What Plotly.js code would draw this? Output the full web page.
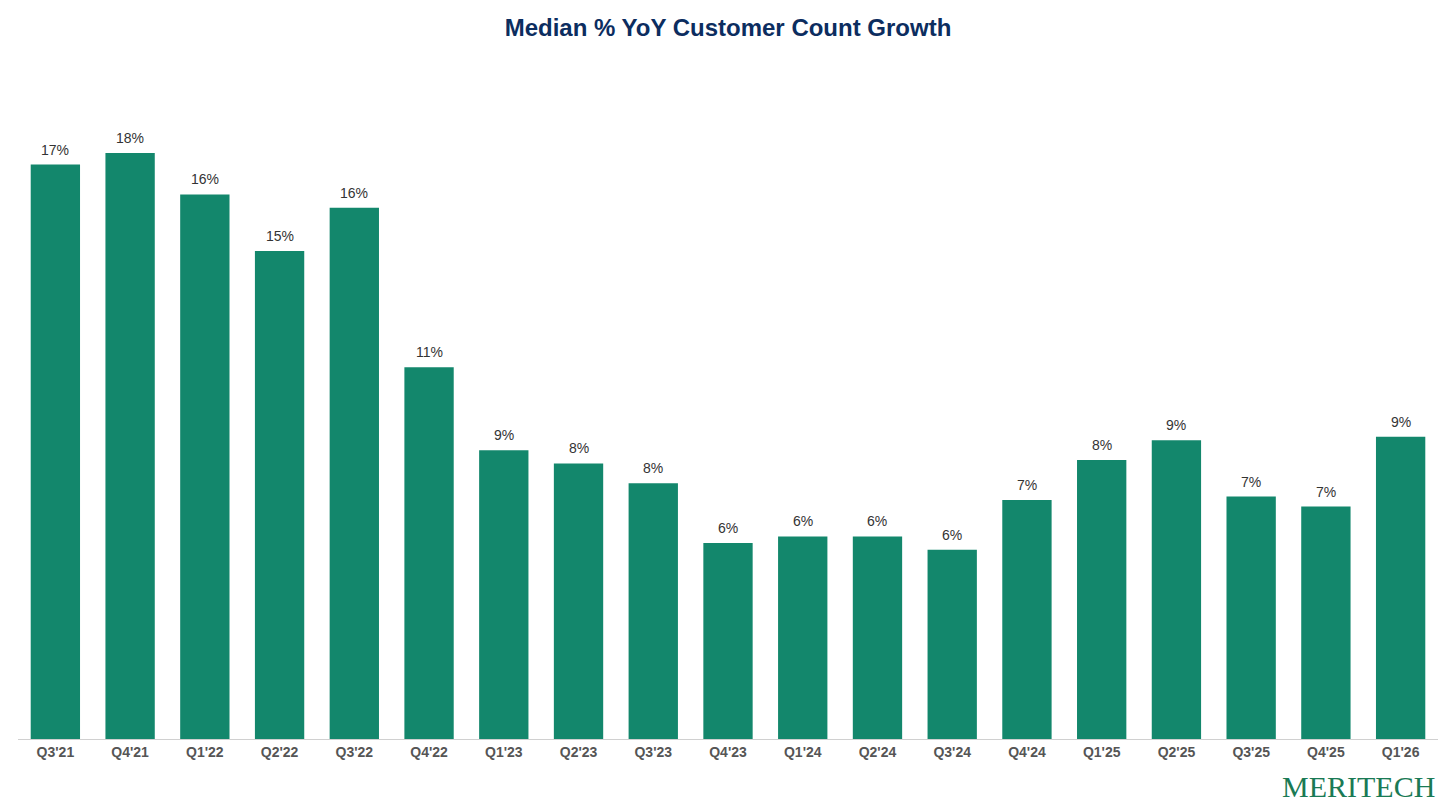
<!DOCTYPE html>
<html>
<head>
<meta charset="utf-8">
<script src="https://cdn.plot.ly/plotly-3.0.1.min.js"></script>
<style>body{margin:0;background:#fff}#plot{width:1456px;height:805px}</style>
</head>
<body>
<div id="plot"></div>
<script>
// quarters and median yoy customer count growth (%)
const quarters = ["Q3'21","Q4'21","Q1'22","Q2'22","Q3'22","Q4'22","Q1'23","Q2'23","Q3'23","Q4'23",
  "Q1'24","Q2'24","Q3'24","Q4'24","Q1'25","Q2'25","Q3'25","Q4'25","Q1'26"];
const growth = [17.3, 17.65, 16.4, 14.7, 16.0, 11.2, 8.7, 8.3, 7.7, 5.9,
  6.1, 6.1, 5.7, 7.2, 8.4, 9.0, 7.3, 7.0, 9.1];

const trace = {
  type: 'bar',
  x: quarters,
  y: growth,
  marker: { color: '#13876c' },
  hoverinfo: 'skip',
};

// value labels, a bit above each bar
const labels = quarters.map((q, i) => ({
  x: q, y: growth[i], text: Math.round(growth[i]) + '%', showarrow: false,
  yanchor: 'bottom', yshift: 5,
  font: { family: 'Arial, Liberation Sans', size: 14, color: '#333' },
}));

const layout = {
  width: 1456, height: 805,
  margin: { l: 18, r: 18, t: 60, b: 66 },
  bargap: 0.34,
  title: { text: '<b>Median % YoY Customer Count Growth</b>', x: 0.5, y: 0.966, yanchor: 'middle',
    font: { family: 'Arial, Liberation Sans', size: 24, color: '#0c2d5f' } },
  xaxis: { showline: true, linecolor: '#d0d0d0', linewidth: 1, ticks: '',
    tickfont: { family: 'Arial, Liberation Sans', size: 14, color: '#555' },
    tickvals: quarters, ticktext: quarters.map(q => '<b>' + q + '</b>') },
  yaxis: { visible: false, range: [0, 20.45], showgrid: false, zeroline: false },
  annotations: labels.concat([{ text: 'MERITECH', xref: 'paper', yref: 'paper', x: 0.999, y: -0.097,
    xanchor: 'right', yanchor: 'bottom', showarrow: false,
    font: { family: 'Liberation Serif, serif', size: 30, color: '#1a7a55' } }]),
  plot_bgcolor: '#fff', paper_bgcolor: '#fff', showlegend: false,
};

Plotly.newPlot('plot', [trace], layout, { displayModeBar: false });
</script>
</body>
</html>
